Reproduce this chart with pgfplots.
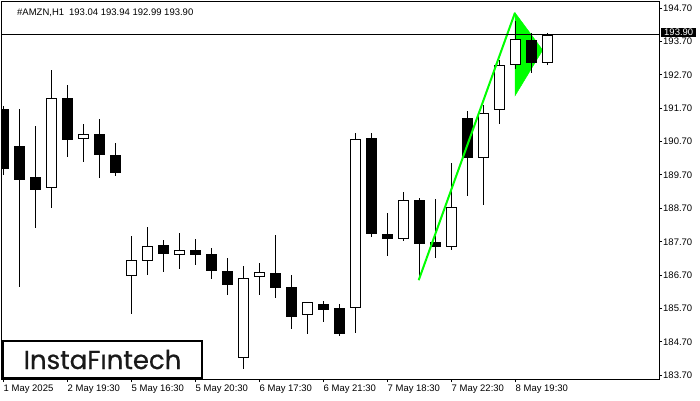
\documentclass[border=0pt]{standalone}
\usepackage{pgfplots}
\usepackage{pgfplotstable}
\pgfplotsset{compat=1.18}
\usepackage{fontspec}
\setmainfont{Liberation Sans}
\newfontfamily\logofont[FakeBold=0.6]{Poppins}
\definecolor{flag}{RGB}{0,255,0}

\pgfplotstableread{
x o h l c
0 191.68 191.77 189.70 189.88
1 190.57 191.68 186.35 189.55
2 189.64 191.17 188.11 189.25
3 189.31 192.84 188.71 192.01
4 192.01 192.39 190.24 190.75
5 190.78 191.23 190.09 190.93
6 190.93 191.38 189.61 190.30
7 190.30 190.66 189.67 189.76
8 186.68 187.87 185.54 187.15
9 187.13 188.14 186.71 187.57
10 187.60 187.75 186.80 187.33
11 187.30 187.96 186.89 187.45
12 187.45 187.78 187.01 187.30
13 187.33 187.51 186.59 186.83
14 186.83 187.21 186.11 186.41
15 184.22 186.98 183.89 186.62
16 186.65 187.07 186.11 186.80
17 186.77 187.90 186.02 186.32
18 186.35 186.71 185.09 185.45
19 185.51 185.90 184.94 185.90
20 185.84 185.93 185.30 185.66
21 185.72 185.84 184.88 184.94
22 185.72 190.96 184.97 190.78
23 190.81 190.96 187.84 187.93
24 187.93 188.56 187.27 187.78
25 187.78 189.19 187.72 188.95
26 188.95 189.01 186.62 187.63
27 187.69 188.98 187.21 187.54
28 187.54 190.06 187.45 188.74
29 191.41 191.62 189.07 190.21
30 190.21 191.80 188.80 191.56
31 191.65 193.14 191.23 192.99
32 192.99 194.31 192.87 193.77
33 193.74 193.95 192.75 193.05
34 193.04 193.94 192.99 193.90
}\candles

\begin{document}
\begin{tikzpicture}
\useasboundingbox (0,0) rectangle (700pt,400pt);
\begin{axis}[
  at={(2pt,21pt)}, anchor=south west,
  scale only axis, width=657pt, height=377pt,
  xmin=-0.094, xmax=40.97, ymin=183.59, ymax=194.88,
  axis line style={black, line width=1pt},
  tick style={black, line width=1pt},
  tick align=outside, major tick length=3pt,
  xtick pos=bottom, ytick pos=right, yticklabel pos=right,
  xtick={0,4,8,12,16,20,24,28,32},
  xticklabels={1 May 2025, 2 May 19:30, 5 May 16:30, 5 May 20:30, 6 May 17:30, 6 May 21:30, 7 May 18:30, 7 May 22:30, 8 May 19:30},
  ytick={183.7,184.7,185.7,186.7,187.7,188.7,189.7,190.7,191.7,192.7,193.7,194.7},
  /pgf/number format/assume math mode=true,
  yticklabel style={/pgf/number format/fixed, /pgf/number format/fixed zerofill, /pgf/number format/precision=2},
  ticklabel style={font=\fontsize{9.5}{10}\selectfont, text=black},
  xticklabel style={anchor=north west, inner sep=0pt, yshift=-3pt},
  yticklabel style={anchor=west, inner sep=0pt, xshift=1pt},
  clip mode=individual,
  unbounded coords=discard,
]
% pennant (behind candles)
\addplot[fill=flag, draw=flag, forget plot] coordinates {(31.97,194.56) (33.7,193.44) (31.97,192.07)} -- cycle;
% wicks
\addplot[draw=none, mark=none, forget plot,
  error bars/.cd, y dir=both, y explicit, error mark=none,
  error bar style={draw=black, line width=1pt}]
  table[x=x, y expr={(\thisrow{h}+\thisrow{l})/2}, y error expr={(\thisrow{h}-\thisrow{l})/2}] {\candles};
% bodies (black outer)
\addplot[draw=none, mark=none, forget plot,
  error bars/.cd, y dir=both, y explicit, error mark=none,
  error bar style={draw=black, line width=11pt}]
  table[x=x, y expr={(\thisrow{o}+\thisrow{c})/2}, y error expr={abs(\thisrow{c}-\thisrow{o})/2}] {\candles};
% white inner for bullish
\addplot[draw=none, mark=none, forget plot,
  error bars/.cd, y dir=both, y explicit, error mark=none,
  error bar style={draw=white, line width=9pt}]
  table[x=x, y expr={\thisrow{c}>\thisrow{o} ? (\thisrow{o}+\thisrow{c})/2 : nan}, y error expr={(\thisrow{c}-\thisrow{o})/2-0.03}] {\candles};
% flagpole
\addplot[flag, line width=2pt, forget plot] coordinates {(25.95,186.55) (31.97,194.56)};
% current price line
\addplot[black, line width=1pt, forget plot] coordinates {(-0.094,193.90) (40.97,193.90)};
\end{axis}
\node[anchor=west, inner sep=0pt, font=\fontsize{9.5}{10}\selectfont] at (17pt,387.3pt) {\#AMZN,H1\hspace{5pt}193.04 193.94 192.99 193.90};
\node[fill=black, text=white, inner xsep=3pt, inner ysep=1.2pt, anchor=west, font=\fontsize{9.5}{10}\selectfont] at (661pt,367.5pt) {193.90};
\draw[line width=2pt, fill=white] (3pt,22pt) rectangle (202pt,59pt);
\node[font=\logofont\fontsize{26}{28}\selectfont, text=black!90] at (102.5pt,40.5pt) {InstaFıntech};
\end{tikzpicture}
\end{document}
